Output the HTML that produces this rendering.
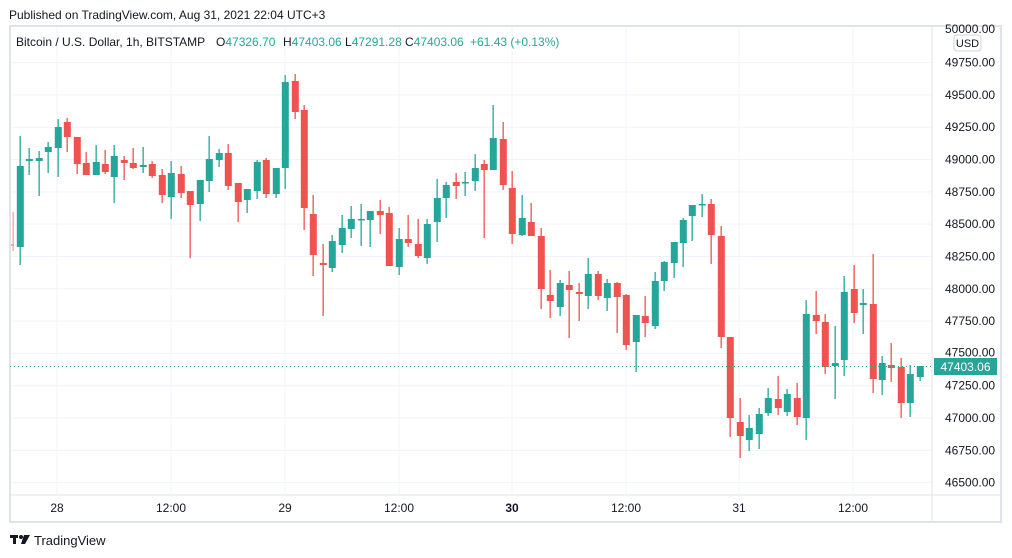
<!DOCTYPE html>
<html><head><meta charset="utf-8"><style>
body{margin:0;width:1012px;height:558px;background:#fff;overflow:hidden;font-family:"Liberation Sans","DejaVu Sans",sans-serif}
</style></head><body>
<svg id="s" width="1012" height="558" xmlns="http://www.w3.org/2000/svg" style="position:absolute;left:0;top:0">
<rect x="0" y="0" width="1012" height="558" fill="#fff"/>
<text x="9" y="19" font-size="12" fill="#131722">Published on TradingView.com, Aug 31, 2021 22:04 UTC+3</text>
<g id="grid" stroke="#f0f3fa" stroke-width="1"></g>
<g id="c"></g>
<rect x="10" y="26" width="991" height="496" fill="none" stroke="#e0e3eb" stroke-width="2"/>
<line x1="932" y1="26" x2="932" y2="522" stroke="#e0e3eb" stroke-width="1"/>
<line x1="10" y1="495" x2="1001" y2="495" stroke="#e0e3eb" stroke-width="1"/>
<line x1="10" y1="366.5" x2="932" y2="366.5" stroke="#26a69a" stroke-width="1" stroke-dasharray="1,3"/>
<g id="yl" font-size="12" fill="#131722"></g>
<g id="xl" font-size="12" fill="#131722" text-anchor="middle"></g>
<g font-size="12" fill="#131722">
<text x="16" y="46">Bitcoin / U.S. Dollar, 1h, BITSTAMP</text>
<text x="216" y="46">O<tspan fill="#26a69a">47326.70</tspan></text>
<text x="283" y="46">H<tspan fill="#26a69a">47403.06</tspan></text>
<text x="345" y="46">L<tspan fill="#26a69a">47291.28</tspan></text>
<text x="405" y="46">C<tspan fill="#26a69a">47403.06</tspan></text>
<text x="470" y="46" fill="#26a69a">+61.43 (+0.13%)</text>
</g>
<rect x="954" y="35" width="27" height="16" rx="3" fill="#fff" stroke="#d1d4dc"/>
<text x="967.5" y="47" font-size="11" fill="#131722" text-anchor="middle">USD</text>
<rect x="934" y="358" width="63" height="17" fill="#26a69a"/>
<text x="965.5" y="371" font-size="12" fill="#fff" text-anchor="middle">47403.06</text>
<g transform="translate(10,535)"><rect x="0" y="0" width="8" height="3" fill="#131722"/><rect x="3" y="0" width="3" height="9" fill="#131722"/><circle cx="11" cy="2" r="2" fill="#131722"/><path d="M14 0 L20 0 L15 9 L11 9 Z" fill="#131722"/></g>
<text x="34" y="545" font-size="13" fill="#131722">TradingView</text>
</svg>
<script>
var NS="http://www.w3.org/2000/svg";
function el(p,t,a,txt){var e=document.createElementNS(NS,t);for(var k in a)e.setAttribute(k,a[k]);if(txt)e.textContent=txt;document.getElementById(p).appendChild(e);}
for(var k=0;k<15;k++){var y=30.3+k*32.31;var v=50000-k*250;
 if(k>0)el("grid","line",{x1:11,y1:y,x2:931,y2:y});
 if(k>0 && v!==47500) el("yl","text",{x:945,y:y+4},v.toFixed(2));
}
el("yl","text",{x:945,y:356.6},"47500.00");
el("yl","text",{x:945,y:33},"50000.00");
var xs=[57,171,285,399,512,626,739,853],xt=["28","12:00","29","12:00","30","12:00","31","12:00"];
for(var i=0;i<xs.length;i++){el("grid","line",{x1:xs[i],y1:27,x2:xs[i],y2:494});
 el("xl","text",{x:xs[i],y:512,"font-weight":(xt[i]=="30")?"bold":"normal"},xt[i]);}
var d=[
[13,244,246,212,251,"r"],[20.3,166,247,136,265,"g"],[29.3,159,161,148,175,"g"],[39.3,158,161,151,196,"g"],[48.3,147,152,142,173,"g"],
[58.3,127,148,119,177,"g"],[67.3,122,137,118,152,"r"],[77.3,137,164,137,174,"r"],[86.3,163,175,152,175,"r"],[96.3,162,175,145,175,"g"],
[105.3,164,172,150,174,"r"],[114.3,156,177,145,203,"g"],[124.3,160,163,156,180,"r"],[133.3,163,168,148,169,"r"],[143.3,165,167,147,173,"g"],
[152.3,164,176,161,178,"r"],[162.3,175,195,169,203,"r"],[171.3,173,197,161,219,"g"],[181.3,174,193,166,198,"r"],[190.3,191,205,191,258,"r"],
[200.3,180,204,180,221,"g"],[209.3,159,181,136,192,"g"],[219.3,153,160,149,167,"g"],[228.3,153,186,144,190,"r"],[238.3,183,202,183,222,"r"],
[247.3,189,200,189,213,"g"],[257.3,162,191,160,199,"g"],[266.3,160,194,158,198,"r"],[276.3,168,194,168,198,"g"],[285.3,82,168,75,189,"g"],
[295.3,81,112,74,119,"r"],[304.3,110,208,105,230,"r"],[313.3,214,255,195,276,"r"],[323.3,263,265,244,316,"r"],[332.3,241,268,235,272,"g"],
[342.3,228,245,215,253,"g"],[351.3,219,229,206,238,"g"],[361.3,219,220,204,246,"g"],[370.3,211,220,211,247,"g"],[380.3,211,215,200,234,"r"],
[389.3,213,266,207,266,"r"],[399.3,239,267,228,275,"g"],[408.3,239,243,215,247,"r"],[418.3,244,256,219,258,"r"],[427.3,224,258,219,264,"g"],
[437.3,198,222,179,242,"g"],[446.3,185,198,182,218,"g"],[456.3,182,186,173,199,"r"],[465.3,182,183,172,196,"g"],[475.3,168,181,154,191,"g"],
[484.3,164,170,160,238,"r"],[493.3,138,170,105,170,"g"],[503.3,139,185,122,190,"r"],[512.3,188,234,171,244,"r"],[522.3,218,235,195,236,"g"],
[531.3,222,236,203,236,"r"],[541.3,236,289,228,309,"r"],[550.3,295,301,270,318,"r"],[560.3,283,307,280,316,"g"],[569.3,285,290,271,338,"r"],
[579.3,292,294,283,321,"r"],[588.3,274,296,258,309,"g"],[598.3,274,296,271,300,"r"],[607.3,283,298,279,311,"g"],[617.3,283,297,282,333,"r"],
[626.3,295,345,294,350,"r"],[636.3,315,342,315,372,"g"],[645.3,316,323,296,337,"r"],[655.3,281,326,272,329,"g"],[664.3,262,281,261,291,"g"],
[674.3,242,263,242,278,"g"],[683.3,220,243,218,267,"g"],[692.3,205,216,205,241,"g"],[702.3,204,205,194,217,"g"],[711.3,204,235,199,264,"r"],
[721.3,236,337,226,348,"r"],[730.3,337,418,337,437,"r"],[740.3,422,436,398,458,"r"],[749.3,428,440,415,451,"g"],[759.3,414,434,408,449,"g"],
[768.3,398,413,388,416,"g"],[778.3,399,408,376,415,"r"],[787.3,394,412,389,416,"g"],[797.3,398,417,383,425,"r"],[806.3,314,418,300,440,"g"],
[816.3,315,321,291,334,"r"],[825.3,322,367,314,374,"r"],[835.3,363,366,326,399,"g"],[844.3,292,360,276,376,"g"],[854.3,289,313,265,323,"r"],
[863.3,303,305,289,334,"g"],[873.3,304,379,254,393,"r"],[882.3,363,380,356,395,"g"],[891.3,365,368,343,382,"r"],[901.3,367,403,358,418,"r"],
[910.3,374,403,365,417,"g"],[920.3,366,377,366,381,"g"]];
for(var i=0;i<d.length;i++){var c=d[i],col=c[5]=="g"?"#26a69a":"#ef5350";var x=Math.round(c[0]);
 if(i==0)col="#f4a3a2";
 el("c","rect",{x:x-0.5,y:c[3],width:1.3,height:c[4]-c[3],fill:col});
 var bx=i==0?11:x-3.2, bw=i==0?3:7;
 el("c","rect",{x:bx,y:c[1],width:bw,height:Math.max(1.5,c[2]-c[1]),fill:col});}
</script>
</body></html>
